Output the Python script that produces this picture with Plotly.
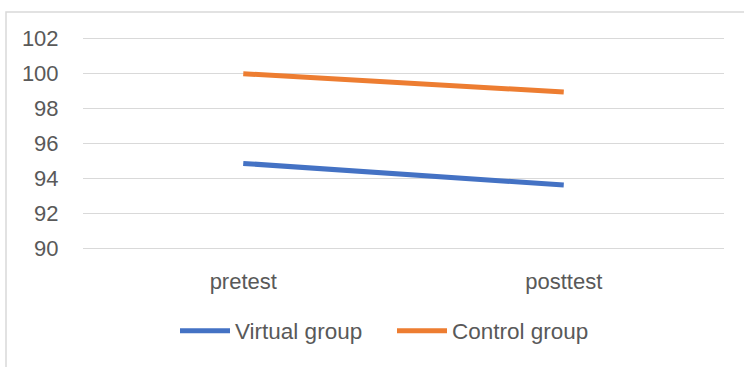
import plotly.graph_objects as go

categories = ["pretest", "posttest"]
virtual_group = [94.86, 93.62]
control_group = [100.0, 98.95]
y_ticks = [90, 92, 94, 96, 98, 100, 102]

FONT = "Liberation Sans"
fig = go.Figure()
fig.add_trace(go.Scatter(x=categories, y=virtual_group, mode="lines", name="Virtual group",
                         line=dict(color="#4472C4", width=5)))
fig.add_trace(go.Scatter(x=categories, y=control_group, mode="lines", name="Control group",
                         line=dict(color="#ED7D31", width=5)))

L, R, T, B = 83, 20, 37, 117
W, H = 744, 367
pw, ph = W - L - R, H - T - B

fig.update_layout(
    width=W, height=H,
    margin=dict(l=L, r=R, t=T, b=B, autoexpand=False),
    paper_bgcolor="white", plot_bgcolor="white",
    font=dict(family=FONT, size=22, color="#595959"),
    showlegend=True,
    legend=dict(orientation="h", x=(175 - L) / pw, xanchor="left",
                y=(H - B - 331) / ph, yanchor="middle",
                font=dict(size=22.5, color="#595959"), itemwidth=50,
                entrywidth=152, entrywidthmode="pixels",
                traceorder="normal"),
    xaxis=dict(type="category", range=[-0.5, 1.5], showgrid=False, showline=False,
               zeroline=False, ticks="outside", ticklen=12, tickcolor="rgba(0,0,0,0)",
               tickfont=dict(size=22, color="#595959")),
    yaxis=dict(range=[89.9, 102.1], tickvals=y_ticks, showgrid=True, gridcolor="#d9d9d9",
               gridwidth=1.2, zeroline=False, showline=False,
               ticks="outside", ticklen=19, tickcolor="rgba(0,0,0,0)",
               tickfont=dict(size=22, color="#595959")),
    shapes=[dict(type="rect", xref="paper", yref="paper",
                 x0=(6 - L) / pw, x1=1.5, y0=-1.0, y1=(H - B - 12) / ph,
                 line=dict(color="#d9d9d9", width=1.5), fillcolor="rgba(0,0,0,0)",
                 layer="below")],
)

fig.write_html("out.html", config={"displayModeBar": False},
               post_script="document.body.style.margin='0';")
